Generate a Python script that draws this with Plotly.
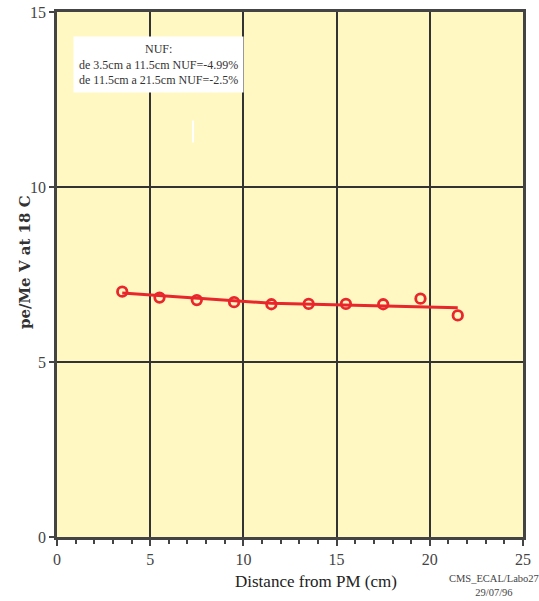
import plotly.graph_objects as go

# data
distance_cm = [3.5, 5.5, 7.5, 9.5, 11.5, 13.5, 15.5, 17.5, 19.5, 21.5]
pe_per_mev = [7.01, 6.84, 6.77, 6.71, 6.65, 6.66, 6.66, 6.65, 6.81, 6.33]
fit_x = [3.5, 11.5, 21.5]
fit_y = [6.97, 6.68, 6.55]
x_ticks = [0, 5, 10, 15, 20, 25]
y_ticks = [0, 5, 10, 15]
note_lines = ["NUF:", "de 3.5cm a 11.5cm NUF=-4.99%", "de 11.5cm a 21.5cm NUF=-2.5%"]

RED = "#e8262c"
SERIF = "Liberation Serif, DejaVu Serif, serif"

L, R, T, B = 57, 523, 12, 537
W, H = R - L, B - T

fig = go.Figure()
fig.add_trace(go.Scatter(x=fit_x, y=fit_y, mode="lines",
                         line=dict(color=RED, width=3), showlegend=False, hoverinfo="skip"))
fig.add_trace(go.Scatter(x=distance_cm, y=pe_per_mev, mode="markers",
                         marker=dict(symbol="circle-open", size=9.5, color=RED,
                                     line=dict(color=RED, width=2.8)),
                         showlegend=False))

fig.update_layout(
    width=539, height=601,
    margin=dict(l=L, r=539 - R, t=T, b=601 - B),
    paper_bgcolor="white",
    plot_bgcolor="#fff8c2",
    font=dict(family=SERIF, color="#333"),
    xaxis=dict(range=[0, 25], tickvals=x_ticks, showgrid=True, gridcolor="#333", gridwidth=1.5,
               zeroline=False, showline=True, linecolor="#444", linewidth=2.5, mirror=True,
               ticks="outside", ticklen=6, tickcolor="#444", tickwidth=1.5, automargin=False,
               minor=dict(dtick=1, ticks="outside", ticklen=4, tickcolor="#444", showgrid=False),
               tickfont=dict(size=16, family=SERIF, color="#444")),
    yaxis=dict(range=[0, 15], tickvals=y_ticks, showgrid=True, gridcolor="#333", gridwidth=1.5,
               zeroline=False, showline=True, linecolor="#444", linewidth=2.5, mirror=True,
               ticks="outside", ticklen=5, tickcolor="#444", tickwidth=1.5, automargin=False,
               tickfont=dict(size=16, family=SERIF, color="#444")),
)

# axis titles
fig.add_annotation(xref="paper", yref="paper", x=(316 - L) / W, y=-(581 - B) / H,
                   text="Distance from PM (cm)", showarrow=False,
                   font=dict(size=17, family=SERIF, color="#222"),
                   xanchor="center", yanchor="middle")
fig.add_annotation(xref="paper", yref="paper", x=-(L - 25) / W, y=(B - 262) / H,
                   text="<b>pe/Me V at 18 C</b>", showarrow=False, textangle=-90,
                   font=dict(size=15, family="DejaVu Serif, serif", color="#333"),
                   xanchor="center", yanchor="middle")

fig.add_annotation(xref="paper", yref="paper", x=(158 - L) / W, y=(B - 64) / H,
                   text="<br>".join(note_lines), showarrow=False, bgcolor="white",
                   font=dict(size=12, family=SERIF, color="#333"), align="center",
                   borderpad=5, xanchor="center", yanchor="middle")

fig.add_shape(type="line", xref="x", yref="y", x0=7.3, x1=7.3, y0=11.27, y1=11.9,
              line=dict(color="white", width=2))

fig.add_annotation(xref="paper", yref="paper", x=(494 - L) / W, y=-(585 - B) / H,
                   text="CMS_ECAL/Labo27<br>29/07/96", showarrow=False,
                   font=dict(size=10.5, family=SERIF, color="#444"), align="center",
                   xanchor="center", yanchor="middle")

fig.write_html("out.html")
